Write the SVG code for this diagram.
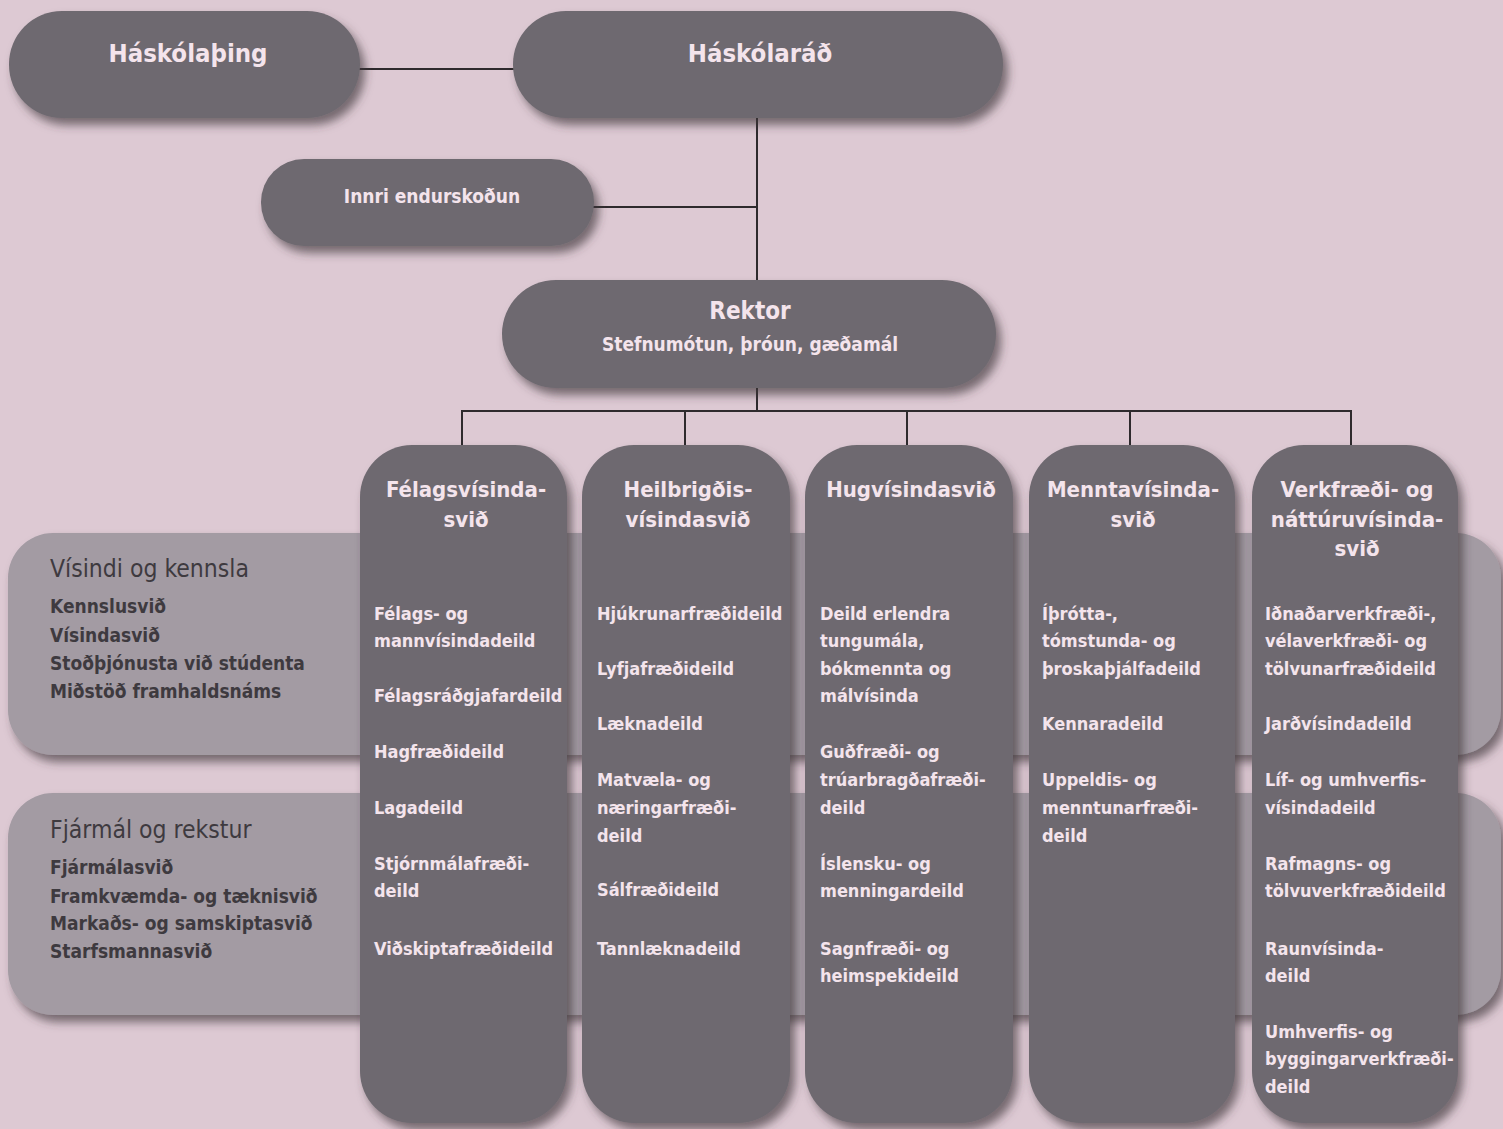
<svg xmlns="http://www.w3.org/2000/svg" width="1503" height="1129" viewBox="0 0 1503 1129">
<defs>
<filter id="sh" x="-10%" y="-10%" width="130%" height="130%">
<feDropShadow dx="5" dy="7" stdDeviation="5" flood-color="#3e3539" flood-opacity="0.65"/>
</filter>
<style>
.node{fill:#6e6970;filter:url(#sh)}
.band{fill:#a39ba3;filter:url(#sh)}
.line{stroke:#2e2a2d;stroke-width:2;fill:none}
text{font-family:"DejaVu Sans Condensed","DejaVu Sans",sans-serif;font-weight:bold}
.t{fill:#f4e4ec}
.title{font-size:25.5px;text-anchor:middle}
.hd{font-size:22px;text-anchor:middle}
.it{font-size:18px}
.bh{fill:#3e3a3f;font-size:24.5px;font-weight:normal}
.bi{fill:#3e3a3f;font-size:19px}
</style>
</defs>
<rect width="1503" height="1129" fill="#ddc9d3"/>

<g id="band-visindi">
<rect class="band" x="8" y="533" width="1493" height="222" rx="45"/>
<text class="bh" x="50" y="577">Vísindi og kennsla</text>
<text class="bi" x="50" y="613">Kennslusvið</text>
<text class="bi" x="50" y="642">Vísindasvið</text>
<text class="bi" x="50" y="670">Stoðþjónusta við stúdenta</text>
<text class="bi" x="50" y="698">Miðstöð framhaldsnáms</text>
</g>
<g id="band-fjarmal">
<rect class="band" x="8" y="793" width="1493" height="222" rx="45"/>
<text class="bh" x="50" y="838">Fjármál og rekstur</text>
<text class="bi" x="50" y="874">Fjármálasvið</text>
<text class="bi" x="50" y="903">Framkvæmda- og tæknisvið</text>
<text class="bi" x="50" y="930">Markaðs- og samskiptasvið</text>
<text class="bi" x="50" y="958">Starfsmannasvið</text>
</g>

<g id="connectors">
<line class="line" x1="358" y1="69" x2="514" y2="69"/>
<line class="line" x1="757" y1="118" x2="757" y2="282"/>
<line class="line" x1="592" y1="207" x2="757" y2="207"/>
<line class="line" x1="757" y1="388" x2="757" y2="411"/>
<line class="line" x1="461" y1="411" x2="1352" y2="411"/>
<line class="line" x1="462" y1="411" x2="462" y2="446"/>
<line class="line" x1="685" y1="411" x2="685" y2="446"/>
<line class="line" x1="907" y1="411" x2="907" y2="446"/>
<line class="line" x1="1130" y1="411" x2="1130" y2="446"/>
<line class="line" x1="1351" y1="411" x2="1351" y2="446"/>
</g>

<g id="haskolathing">
<rect class="node" x="9" y="11" width="351" height="107" rx="53"/>
<text class="t title" x="188" y="62">Háskólaþing</text>
</g>
<g id="haskolarad">
<rect class="node" x="513" y="11" width="490" height="107" rx="53"/>
<text class="t title" x="760" y="62">Háskólaráð</text>
</g>
<g id="innri">
<rect class="node" x="261" y="159" width="333" height="87" rx="43"/>
<text class="t" x="432" y="203" text-anchor="middle" font-size="19">Innri endurskoðun</text>
</g>
<g id="rektor">
<rect class="node" x="502" y="280" width="494" height="108" rx="54"/>
<text class="t" x="750" y="319" text-anchor="middle" font-size="24">Rektor</text>
<text class="t" x="750" y="351" text-anchor="middle" font-size="19">Stefnumótun, þróun, gæðamál</text>
</g>

<g id="felagsvisindasvid">
<rect class="node" x="360" y="445" width="207" height="678" rx="52"/>
<text class="t hd" x="466" y="497">Félagsvísinda-</text>
<text class="t hd" x="466" y="527">svið</text>
<text class="t it" x="374" y="620">Félags- og</text>
<text class="t it" x="374" y="647">mannvísindadeild</text>
<text class="t it" x="374" y="702">Félagsráðgjafardeild</text>
<text class="t it" x="374" y="758">Hagfræðideild</text>
<text class="t it" x="374" y="814">Lagadeild</text>
<text class="t it" x="374" y="870">Stjórnmálafræði-</text>
<text class="t it" x="374" y="897">deild</text>
<text class="t it" x="374" y="955">Viðskiptafræðideild</text>
</g>
<g id="heilbrigdisvisindasvid">
<rect class="node" x="582" y="445" width="208" height="678" rx="52"/>
<text class="t hd" x="688" y="497">Heilbrigðis-</text>
<text class="t hd" x="688" y="527">vísindasvið</text>
<text class="t it" x="597" y="620">Hjúkrunarfræðideild</text>
<text class="t it" x="597" y="675">Lyfjafræðideild</text>
<text class="t it" x="597" y="730">Læknadeild</text>
<text class="t it" x="597" y="786">Matvæla- og</text>
<text class="t it" x="597" y="814">næringarfræði-</text>
<text class="t it" x="597" y="842">deild</text>
<text class="t it" x="597" y="896">Sálfræðideild</text>
<text class="t it" x="597" y="955">Tannlæknadeild</text>
</g>
<g id="hugvisindasvid">
<rect class="node" x="805" y="445" width="208" height="678" rx="52"/>
<text class="t hd" x="911" y="497">Hugvísindasvið</text>
<text class="t it" x="820" y="620">Deild erlendra</text>
<text class="t it" x="820" y="647">tungumála,</text>
<text class="t it" x="820" y="675">bókmennta og</text>
<text class="t it" x="820" y="702">málvísinda</text>
<text class="t it" x="820" y="758">Guðfræði- og</text>
<text class="t it" x="820" y="786">trúarbragðafræði-</text>
<text class="t it" x="820" y="814">deild</text>
<text class="t it" x="820" y="870">Íslensku- og</text>
<text class="t it" x="820" y="897">menningardeild</text>
<text class="t it" x="820" y="955">Sagnfræði- og</text>
<text class="t it" x="820" y="982">heimspekideild</text>
</g>
<g id="menntavisindasvid">
<rect class="node" x="1029" y="445" width="206" height="678" rx="52"/>
<text class="t hd" x="1133" y="497">Menntavísinda-</text>
<text class="t hd" x="1133" y="527">svið</text>
<text class="t it" x="1042" y="620">Íþrótta-,</text>
<text class="t it" x="1042" y="647">tómstunda- og</text>
<text class="t it" x="1042" y="675">þroskaþjálfadeild</text>
<text class="t it" x="1042" y="730">Kennaradeild</text>
<text class="t it" x="1042" y="786">Uppeldis- og</text>
<text class="t it" x="1042" y="814">menntunarfræði-</text>
<text class="t it" x="1042" y="842">deild</text>
</g>
<g id="verkfraedisvid">
<rect class="node" x="1252" y="445" width="206" height="678" rx="52"/>
<text class="t hd" x="1357" y="497">Verkfræði- og</text>
<text class="t hd" x="1357" y="527">náttúruvísinda-</text>
<text class="t hd" x="1357" y="556">svið</text>
<text class="t it" x="1265" y="620">Iðnaðarverkfræði-,</text>
<text class="t it" x="1265" y="647">vélaverkfræði- og</text>
<text class="t it" x="1265" y="675">tölvunarfræðideild</text>
<text class="t it" x="1265" y="730">Jarðvísindadeild</text>
<text class="t it" x="1265" y="786">Líf- og umhverfis-</text>
<text class="t it" x="1265" y="814">vísindadeild</text>
<text class="t it" x="1265" y="870">Rafmagns- og</text>
<text class="t it" x="1265" y="897">tölvuverkfræðideild</text>
<text class="t it" x="1265" y="955">Raunvísinda-</text>
<text class="t it" x="1265" y="982">deild</text>
<text class="t it" x="1265" y="1038">Umhverfis- og</text>
<text class="t it" x="1265" y="1065">byggingarverkfræði-</text>
<text class="t it" x="1265" y="1093">deild</text>
</g>
</svg>
